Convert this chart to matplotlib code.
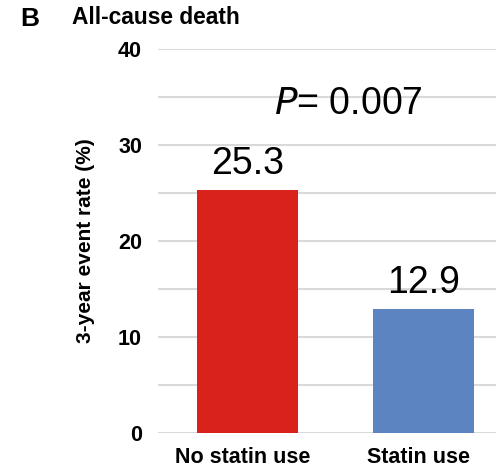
import matplotlib
matplotlib.use("Agg")
import matplotlib.pyplot as plt
from matplotlib.transforms import ScaledTranslation

categories = ["No statin use", "Statin use"]
event_rates = [25.3, 12.9]
bar_colors = ["#d9221c", "#5b84c0"]
y_ticks = [0, 10, 20, 30, 40]
p_text = "0.007"

plt.rcParams["font.family"] = ["Liberation Sans", "DejaVu Sans"]

fig = plt.figure(figsize=(4.96, 4.73), dpi=100)
ax = fig.add_axes([158 / 496, 1 - 433 / 473, (496 - 158) / 496, (433 - 49) / 473])

x = list(range(len(categories)))
ax.bar(x, event_rates, width=0.57, color=bar_colors, zorder=3)

ax.set_ylim(0, 40)
ax.set_xlim(-0.506, 1.41)

# light horizontal gridlines every 5 units
for v in range(0, 41, 5):
    ax.axhline(v, color="#d9d9d9", lw=1.5, zorder=1)

ax.set_yticks(y_ticks)
ax.set_yticklabels([str(t) for t in y_ticks], fontsize=15.5, fontweight="bold")
ax.set_xticks(x)
ax.set_xticklabels(categories, fontsize=15.5, fontweight="bold")
ax.tick_params(axis="both", length=0)
ax.tick_params(axis="y", pad=11.5)
ax.tick_params(axis="x", pad=10)
for s in ax.spines.values():
    s.set_visible(False)

# nudge category labels slightly left
shift = ScaledTranslation(-5 / 100, 0, fig.dpi_scale_trans)
for lbl in ax.get_xticklabels():
    lbl.set_transform(lbl.get_transform() + shift)

for xi, v in zip(x, event_rates):
    ax.text(xi, v + 0.8, f"{v}", ha="center", va="bottom", fontsize=27)

ax.text(0.574, 34.3, "$\\it{P}$" + "= " + p_text, ha="center", va="center", fontsize=27)

ax.set_ylabel("3-year event rate (%)", fontsize=15, fontweight="bold")
ax.yaxis.set_label_coords(-0.185, 0.5)

fig.text(20 / 496, 1 - 19 / 473, "B", fontsize=19, fontweight="bold", va="center", ha="left")
fig.text(72 / 496, 1 - 18 / 473, "All-cause death", fontsize=16.4, fontweight="bold", va="center", ha="left")

fig.savefig("out.png", dpi=100)
